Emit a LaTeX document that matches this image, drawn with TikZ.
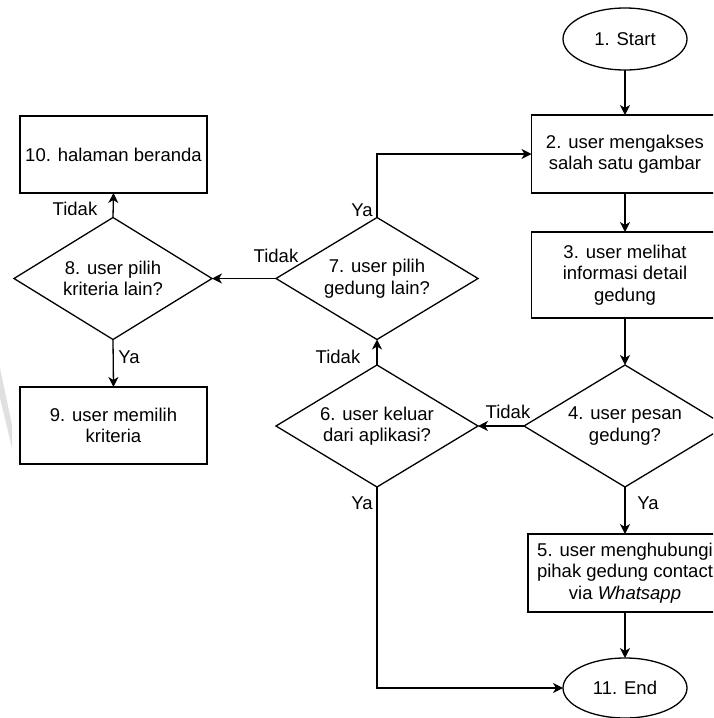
\documentclass[tikz,border=0pt]{standalone}
\usepackage{fontspec}
\setmainfont{Liberation Sans}
\usetikzlibrary{shapes.geometric,arrows.meta}

\begin{document}
\begin{tikzpicture}[x=1pt,y=-1pt,line width=1.3pt,
  every node/.style={font=\fontsize{18.5}{21.5}\selectfont,align=center,inner sep=0pt,outer sep=0pt},
  proc/.style={draw,rectangle,minimum width=187pt,minimum height=78pt},
  term/.style={draw,ellipse,minimum width=124pt,minimum height=62pt},
  dec/.style={draw,diamond,minimum width=202pt,minimum height=122pt},
  flow/.style={-{Stealth[length=10pt,width=10pt,inset=3pt]}}
]
% canvas
\fill[white] (0,0) rectangle (713,718);
\useasboundingbox (0,0) rectangle (713,718);
\clip (0,0) rectangle (713,718);

% faint watermark stroke at the left edge
\fill[black!12] (0,368) -- (12,425) -- (12,448) -- (0,398) -- cycle;

% main column
\node[term] (s) at (625,39) {1. Start};
\node[proc] (b2) at (625,154) {2. user mengakses\\salah satu gambar};
\node[proc,minimum height=86pt] (b3) at (625,275) {3. user melihat\\informasi detail\\gedung};
\node[dec] (d4) at (625,426) {};
\node (d4t) at (d4) {4. user pesan\\gedung?};
\node[proc,minimum width=194pt] (b5) at (625,573) {5. user menghubungi\\pihak gedung contact\\via \textit{Whatsapp}};
\node[term,minimum height=60pt] (e) at (625,688) {11. End};

% middle column
\node[dec] (d6) at (377,426) {};
\node (d6t) at (d6) {6. user keluar\\dari aplikasi?};
\node[dec] (d7) at (377,278.5) {};
\node (d7t) at (d7) {7. user pilih\\gedung lain?};

% left column
\node[proc,minimum height=77pt] (b10) at (113.5,154.5) {10. halaman beranda};
\node[dec,minimum width=198pt] (d8) at (113,278.5) {};
\node (d8t) at (d8) {8. user pilih\\kriteria lain?};
\node[proc,minimum height=77pt] (b9) at (113.5,425.5) {9. user memilih\\kriteria};

% connectors
\draw[flow] (s) -- (b2);
\draw[flow] (b2) -- (b3);
\draw[flow] (b3) -- (d4.north);
\draw[flow] (d4.south) -- (b5);
\draw[flow] (b5) -- (e);
\draw[flow] (d4.west) -- (d6.east);
\draw[flow] (d6.north) -- (d7.south);
\draw[flow] (d7.west) -- (d8.east);
\draw[flow] (d8.north) -- (b10.south);
\draw[flow] (d8.south) -- (b9.north);
\draw[flow] (d7.north) |- (b2.west);
\draw[flow] (d6.south) |- (e.west);

% branch labels
\node (l7y) at (362,210) {Ya};
\node (l7n) at (276,256) {Tidak};
\node (l8n) at (75,209) {Tidak};
\node (l8y) at (129,357) {Ya};
\node (l6n) at (338,357) {Tidak};
\node (l4n) at (508,412) {Tidak};
\node (l4y) at (648,503) {Ya};
\node (l6y) at (362,503) {Ya};
\end{tikzpicture}
\end{document}
